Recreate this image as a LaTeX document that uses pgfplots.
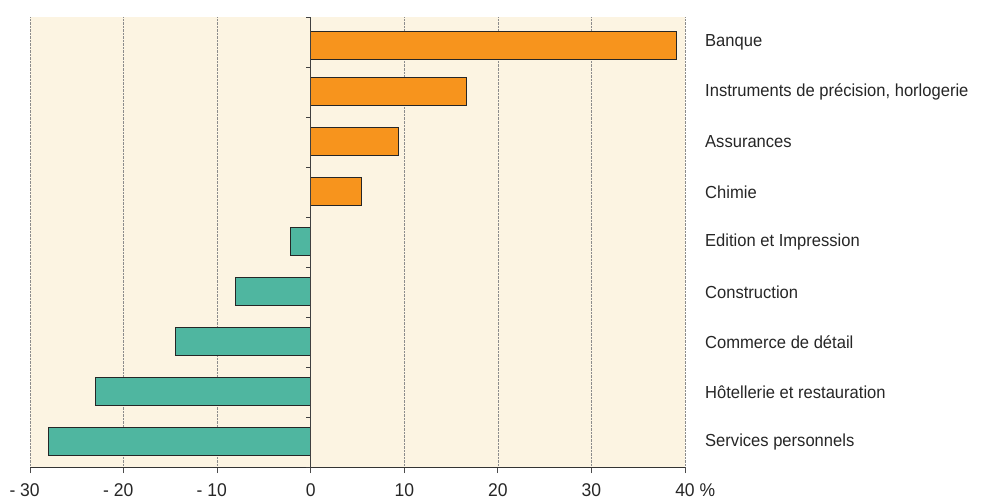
\documentclass[border=0pt]{standalone}
\usepackage{fontspec}
\setmainfont[FakeStretch=0.95]{Liberation Sans}
\usepackage{pgfplots}
\pgfplotsset{compat=1.18}
\definecolor{bg}{HTML}{FCF4E2}
\definecolor{orng}{HTML}{F7941D}
\definecolor{teal2}{HTML}{4FB6A0}
\begin{document}
\fontsize{17.5}{20}\selectfont
\begin{tikzpicture}
\begin{axis}[
 x=9.357bp, y=50bp,
 xmin=-30, xmax=40, ymin=-0.5, ymax=8.5,
 scale only axis,
 axis x line=bottom, axis y line=none,
 axis line style={-, black!80, line width=0.8bp},
 xtick={-30,-20,...,40},
 xticklabels={\llap{- }30,\llap{- }20,\llap{- }10,0,10,20,30,40\rlap{ \%}},
 tick align=outside, major tick length=6bp,
 tick style={black!70, line width=0.8bp},
 xmajorgrids, grid style={densely dotted, black!45, line width=0.6bp},
 axis background/.style={fill=bg},
 ytick=\empty,
 clip=false,
 /pgf/number format/assume math mode=true,
 xticklabel style={font=\fontsize{18.5}{20}\selectfont, yshift=-5bp, text=black!85},
]
\addplot[xbar, bar width=28bp, bar shift=0pt, fill=orng, draw=black!85, line width=1bp]
 coordinates {(39.1,7.92) (16.6,7) (9.4,6) (5.4,5)};
\addplot[xbar, bar width=28bp, bar shift=0pt, fill=teal2, draw=black!85, line width=1bp]
 coordinates {(-2.2,4) (-8.0,3) (-14.4,2) (-23.0,1) (-28.0,0)};
\draw[black!75, line width=1bp] (axis cs:0,-0.5) -- (axis cs:0,8.5);
\pgfplotsinvokeforeach{-0.5,0.5,1.5,2.5,3.5,4.5,5.5,6.5,7.5,8.5}{
 \draw[black!75, line width=0.9bp] (axis cs:0,#1) -- ([xshift=-5bp]axis cs:0,#1);
}
\node[anchor=west, inner sep=0pt, text=black!85] at ([xshift=20bp]axis cs:40,0) {Services personnels};
\node[anchor=west, inner sep=0pt, text=black!85] at ([xshift=20bp]axis cs:40,1) {Hôtellerie et restauration};
\node[anchor=west, inner sep=0pt, text=black!85] at ([xshift=20bp]axis cs:40,2) {Commerce de détail};
\node[anchor=west, inner sep=0pt, text=black!85] at ([xshift=20bp]axis cs:40,3) {Construction};
\node[anchor=west, inner sep=0pt, text=black!85] at ([xshift=20bp]axis cs:40,4) {Edition et Impression};
\node[anchor=west, inner sep=0pt, text=black!85] at ([xshift=20bp]axis cs:40,5) {Chimie};
\node[anchor=west, inner sep=0pt, text=black!85] at ([xshift=20bp]axis cs:40,6) {Assurances};
\node[anchor=west, inner sep=0pt, text=black!85] at ([xshift=20bp]axis cs:40,7) {Instruments de précision, horlogerie};
\node[anchor=west, inner sep=0pt, text=black!85] at ([xshift=20bp]axis cs:40,8) {Banque};
\end{axis}
\pgfresetboundingbox
\path[use as bounding box] (-30bp,-33bp) rectangle (954bp,467bp);
\end{tikzpicture}
\end{document}
